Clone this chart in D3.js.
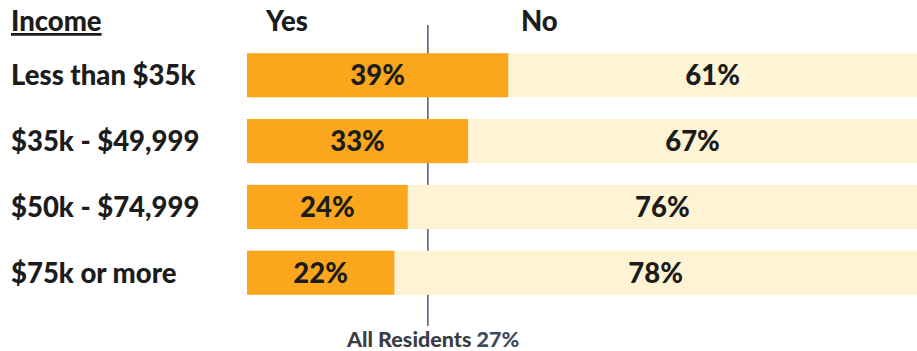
<!DOCTYPE html>
<html>
<head>
<meta charset="utf-8">
<script src="https://cdn.jsdelivr.net/npm/d3@7"></script>
<style>
  body { margin: 0; background: #fff; }
  text { font-family: Lato, "Open Sans", sans-serif; font-weight: 900; }
</style>
</head>
<body>
<svg id="chart"></svg>
<script>
const categories = ["Less than $35k", "$35k - $49,999", "$50k - $74,999", "$75k or more"];
const yesValues = [39, 33, 24, 22];
const noValues = [61, 67, 76, 78];
const allResidents = 27;

const width = 917, height = 351;

const svg = d3.select("#chart")
  .attr("width", width)
  .attr("height", height);

const x = d3.scaleLinear()
  .domain([0, 100])
  .range([247, 917]);

const y = d3.scaleBand()
  .domain(categories)
  .range([42, 306])
  .paddingInner(0.33)
  .paddingOuter(0.17);

const colorYes = "#faa71d";
const colorNo = "#fef4d4";
const textColor = "#1c1c1c";

const rows = categories.map((c, i) => ({ cat: c, yes: yesValues[i], no: noValues[i] }));

// reference line for all residents, sits behind the bars
svg.append("line")
  .attr("x1", x(allResidents))
  .attr("x2", x(allResidents))
  .attr("y1", 25)
  .attr("y2", 326)
  .attr("stroke", "#424b6a")
  .attr("stroke-width", 1.4);

// no segments
svg.selectAll("rect.no")
  .data(rows)
  .join("rect")
  .attr("class", "no")
  .attr("x", d => x(d.yes))
  .attr("y", d => y(d.cat))
  .attr("width", d => x(d.yes + d.no) - x(d.yes))
  .attr("height", y.bandwidth())
  .attr("fill", colorNo);

svg.selectAll("rect.yes")
  .data(rows)
  .join("rect")
  .attr("class", "yes")
  .attr("x", x(0))
  .attr("y", d => y(d.cat))
  .attr("width", d => x(d.yes) - x(0))
  .attr("height", y.bandwidth())
  .attr("fill", colorYes);

// category labels
svg.selectAll("text.cat")
  .data(rows)
  .join("text")
  .attr("class", "cat")
  .attr("x", 11)
  .attr("y", d => y(d.cat) + y.bandwidth() / 2)
  .attr("dy", "0.36em")
  .attr("font-size", 27.5)
  .attr("fill", textColor)
  .text(d => d.cat);

// value labels
svg.selectAll("text.yesLbl")
  .data(rows)
  .join("text")
  .attr("class", "yesLbl")
  .attr("x", d => (x(0) + x(d.yes)) / 2)
  .attr("y", d => y(d.cat) + y.bandwidth() / 2)
  .attr("dy", "0.36em")
  .attr("text-anchor", "middle")
  .attr("font-size", 27.5)
  .attr("fill", textColor)
  .text(d => d.yes + "%");

svg.selectAll("text.noLbl")
  .data(rows)
  .join("text")
  .attr("class", "noLbl")
  .attr("x", d => (x(d.yes) + x(d.yes + d.no)) / 2)
  .attr("y", d => y(d.cat) + y.bandwidth() / 2)
  .attr("dy", "0.36em")
  .attr("text-anchor", "middle")
  .attr("font-size", 27.5)
  .attr("fill", textColor)
  .text(d => d.no + "%");

// headers
svg.append("text")
  .attr("x", 11)
  .attr("y", 31)
  .attr("font-size", 27.5)
  .attr("fill", textColor)
  .attr("text-decoration", "underline")
  .text("Income");

svg.append("text")
  .attr("x", 266)
  .attr("y", 31)
  .attr("font-size", 27.5)
  .attr("fill", textColor)
  .text("Yes");

svg.append("text")
  .attr("x", 521)
  .attr("y", 31)
  .attr("font-size", 27.5)
  .attr("fill", textColor)
  .text("No");

// reference label
const refLbl = svg.append("text")
  .attr("x", 347)
  .attr("y", 347)
  .attr("font-size", 21.5)
  .attr("font-weight", 700)
  .attr("fill", "#3a3e44");
refLbl.append("tspan").text("All Residents ");
refLbl.append("tspan").attr("fill", "#3c4a5e").text(allResidents + "%");
</script>
</body>
</html>
